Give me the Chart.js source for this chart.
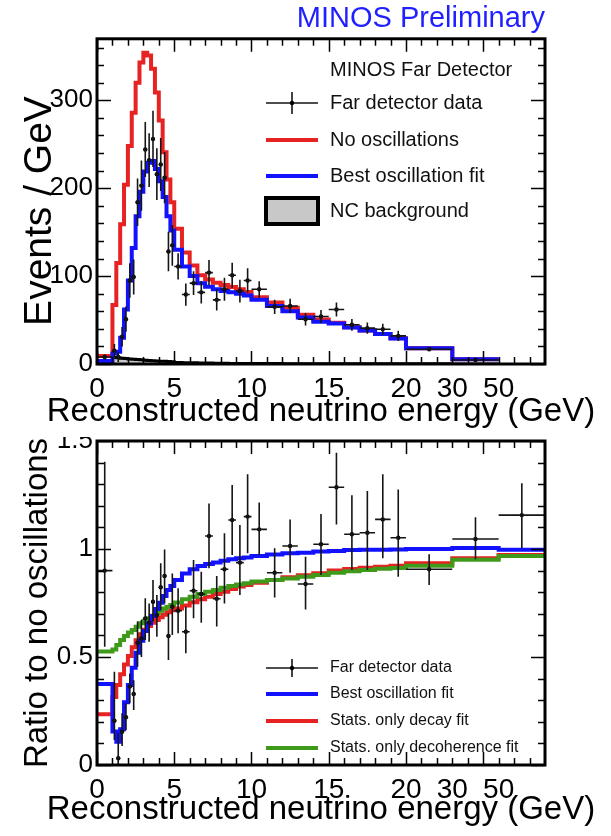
<!DOCTYPE html>
<html>
<head>
<meta charset="utf-8">
<title>MINOS Far Detector spectrum</title>
<script src="https://cdn.jsdelivr.net/npm/chart.js@4.4.0/dist/chart.umd.min.js"></script>
<style>
  body { margin: 0; background: #fff; }
  #wrap { position: relative; width: 611px; height: 836px; overflow: hidden; }
  #spectrum { position: absolute; left: 0; top: 0; z-index: 2; background: #fff; }
  #ratio { position: absolute; left: 0; top: 400px; z-index: 1; }
</style>
</head>
<body>
<div id="wrap">
  <canvas id="spectrum" width="611" height="437"></canvas>
  <canvas id="ratio" width="611" height="436"></canvas>
</div>
<script>
const FONT = "'Liberation Sans', Arial, Helvetica, sans-serif";
Chart.defaults.font.family = FONT;
Chart.defaults.color = '#000';

// energy bins in GeV (the last bin only appears in the ratio)
const binEdges = [0, 1, 1.25, 1.5, 1.75, 2, 2.25, 2.5, 2.75, 3, 3.25, 3.5, 3.75, 4, 4.25, 4.5, 4.75, 5,
  5.5, 6, 6.5, 7, 7.5, 8, 8.5, 9, 9.5, 10, 11, 12, 13, 14, 15, 16, 17, 18, 19, 20, 30, 50, 200];
const energyLabels = [0, 5, 10, 15, 20, 30, 50];

// events / GeV
const noOscillations = [9, 67, 115, 159, 204, 248, 286, 320, 343, 354, 351, 336, 309, 277, 241, 210, 184,
  154, 127, 112, 101, 96, 92.5, 90, 87.5, 85, 82,
  76, 70, 64, 56, 50.5, 47, 41.7, 38.2, 34.2, 29.2, 18, 5.4];
const bestFit = [3.5, 12, 14, 30, 62, 95, 132, 168, 196, 219, 229, 231, 222, 208, 190, 168, 152,
  130, 111, 100, 92, 88, 85, 83, 81.5, 80, 78,
  73, 66, 60, 53, 48, 46, 41.5, 38, 34, 29, 18, 5.4];
const ncBackground = [4, 7.5, 7, 6.6, 6.2, 5.8, 5.4, 5, 4.7, 4.4, 4.1, 3.8, 3.5, 3.2, 3, 2.8, 2.6,
  1.8, 1.5, 1.3, 1.1, 1, 0.9, 0.8, 0.7, 0.6, 0.55,
  0.5, 0.45, 0.4, 0.35, 0.3, 0.3, 0.25, 0.25, 0.2, 0.2, 0.15, 0.1];
const farData = [8, 15, 8, 31, 51, 95, 99, 184, 203, 244, 232, 256, 216, 227, 212, 128, 135,
  111, 79, 92, 81.5, 104, 73, 85, 101, 83, 95,
  85, 65, 66, 51, 54, 62, 44.6, 40.8, 39.6, 32, 16.8, 4.6];
const farDataErr = [2.8, 7.7, 5.7, 11.1, 14.3, 19.5, 19.9, 27.1, 28.5, 31.2, 30.5, 32, 29.4, 30.1, 29.1, 22.6, 23.2,
  14.9, 12.6, 13.6, 12.8, 14.4, 12.1, 13, 14.2, 12.9, 13.8,
  9.2, 8.1, 8.1, 7.1, 7.3, 7.9, 6.7, 6.4, 6.3, 5.7, 1.3, 0.5];

// ratio to no oscillations
const ratioData = [0.9, 0.205, 0.031, 0.154, 0.221, 0.363, 0.329, 0.566, 0.586, 0.679, 0.659, 0.756, 0.694, 0.823, 0.875, 0.597, 0.733,
  0.714, 0.617, 0.807, 0.792, 1.06, 0.77, 0.906, 1.134, 0.937, 1.15,
  1.091, 0.89, 1.014, 0.838, 1.022, 1.286, 1.068, 1.075, 1.137, 1.052, 0.906, 1.046, 1.157];
const ratioDataHi = [1.404, 0.432, 0.147, 0.24, 0.286, 0.424, 0.392, 0.664, 0.671, 0.772, 0.748, 0.856, 0.787, 0.934, 0.998, 0.702, 0.887,
  0.818, 0.733, 0.949, 0.895, 1.211, 0.875, 1.073, 1.296, 1.111, 1.346,
  1.215, 1.003, 1.137, 0.964, 1.162, 1.446, 1.249, 1.268, 1.346, 1.276, 0.976, 1.147, 1.304];
const ratioDataLo = [0.548, 0.116, 0, 0.088, 0.162, 0.286, 0.255, 0.455, 0.5, 0.579, 0.571, 0.664, 0.594, 0.718, 0.748, 0.486, 0.602,
  0.61, 0.517, 0.679, 0.659, 0.911, 0.641, 0.748, 0.972, 0.787, 0.98,
  0.972, 0.776, 0.89, 0.72, 0.88, 1.114, 0.903, 0.903, 0.957, 0.872, 0.833, 0.952, 1.004];
const ratioBestFit = [0.375, 0.155, 0.108, 0.165, 0.29, 0.37, 0.45, 0.52, 0.575, 0.62, 0.655, 0.69, 0.722, 0.751, 0.782, 0.81, 0.829,
  0.856, 0.887, 0.906, 0.921, 0.93, 0.937, 0.946, 0.952, 0.957, 0.961,
  0.968, 0.975, 0.98, 0.983, 0.988, 0.991, 0.995, 0.996, 0.997, 0.998, 1.0, 1.005, 0.997];
const ratioDecay = [0.235, 0.315, 0.37, 0.42, 0.465, 0.505, 0.545, 0.578, 0.605, 0.626, 0.644, 0.659, 0.671, 0.684, 0.696, 0.707, 0.716,
  0.725, 0.739, 0.753, 0.767, 0.779, 0.792, 0.802, 0.815, 0.826, 0.833,
  0.844, 0.856, 0.869, 0.879, 0.888, 0.9, 0.907, 0.913, 0.918, 0.923, 0.934, 0.957, 0.972];
const ratioDecoherence = [0.525, 0.535, 0.556, 0.579, 0.597, 0.613, 0.625, 0.64, 0.656, 0.668, 0.679, 0.691, 0.702, 0.714, 0.724, 0.733, 0.741,
  0.752, 0.767, 0.779, 0.792, 0.802, 0.81, 0.821, 0.829, 0.836, 0.841,
  0.849, 0.856, 0.864, 0.872, 0.88, 0.89, 0.897, 0.903, 0.908, 0.912, 0.922, 0.95, 0.968];

const RED = '#e62222', BLUE = '#1212ff', GREEN = '#3f9a1c';

// the energy axis is linear up to 20 GeV, then 20-30 and 30-50 get 3 units each
const axisBreaks = [[0, 0], [20, 20], [30, 23], [50, 26], [200, 29]];
function axisPos(e) {
  for (let i = 1; i < axisBreaks.length; i++) {
    const [e0, a0] = axisBreaks[i - 1], [e1, a1] = axisBreaks[i];
    if (e <= e1) return a0 + (e - e0) / (e1 - e0) * (a1 - a0);
  }
  return axisBreaks[axisBreaks.length - 1][1];
}

// flat top over each bin, joined by vertical edges
function histPoints(values) {
  const pts = [];
  values.forEach((v, i) => {
    pts.push({ x: axisPos(binEdges[i]), y: v });
    pts.push({ x: axisPos(binEdges[i + 1]), y: v });
  });
  return pts;
}

function dataPoints(values) {
  return values.map((v, i) => ({ x: (axisPos(binEdges[i]) + axisPos(binEdges[i + 1])) / 2, y: v }));
}

function histDataset(label, values, color) {
  return { type: 'line', label, data: histPoints(values), borderColor: color, borderWidth: 4,
    pointRadius: 0, fill: false, tension: 0, borderJoinStyle: 'miter' };
}

function pointDataset(label, values, lo, hi) {
  return { type: 'scatter', label, data: dataPoints(values), pointRadius: 2.2, pointBackgroundColor: '#000',
    pointBorderWidth: 0, showLine: false,
    errLo: lo, errHi: hi,
    binLo: values.map((v, i) => axisPos(binEdges[i])),
    binHi: values.map((v, i) => axisPos(binEdges[i + 1])) };
}

// crosses: bin width horizontally, uncertainty vertically
const errorBars = {
  id: 'errorBars',
  afterDatasetsDraw(chart) {
    const { ctx, chartArea: a, scales: { x, y } } = chart;
    ctx.save();
    ctx.beginPath();
    ctx.rect(a.left, a.top, a.right - a.left, a.bottom - a.top);
    ctx.clip();
    ctx.strokeStyle = '#151515';
    ctx.lineWidth = 1.6;
    chart.data.datasets.forEach(ds => {
      if (!ds.errLo) return;
      ctx.beginPath();
      ds.data.forEach((p, j) => {
        const px = x.getPixelForValue(p.x), py = y.getPixelForValue(p.y);
        ctx.moveTo(x.getPixelForValue(ds.binLo[j]), py);
        ctx.lineTo(x.getPixelForValue(ds.binHi[j]), py);
        ctx.moveTo(px, y.getPixelForValue(ds.errLo[j]));
        ctx.lineTo(px, y.getPixelForValue(ds.errHi[j]));
      });
      ctx.stroke();
    });
    ctx.restore();
  }
};

// heavy box with inward ticks on all four sides
const rootFrame = {
  id: 'rootFrame',
  afterDraw(chart, args, opts) {
    const { ctx, chartArea: a, scales: { x, y } } = chart;
    ctx.save();
    ctx.strokeStyle = '#000';
    ctx.lineWidth = 1.5;
    ctx.beginPath();
    for (let v = 0; v < 29; v++) {
      const len = v % 5 === 0 ? 13 : 7;
      const px = Math.round(x.getPixelForValue(v)) + 0.5;
      ctx.moveTo(px, a.bottom); ctx.lineTo(px, a.bottom - len);
      ctx.moveTo(px, a.top); ctx.lineTo(px, a.top + len);
    }
    for (let k = 0; k * opts.yMinor <= y.max + 1e-9; k++) {
      const len = k % opts.yMajorEvery === 0 ? 14 : 7;
      const py = Math.round(y.getPixelForValue(k * opts.yMinor)) + 0.5;
      ctx.moveTo(a.left, py); ctx.lineTo(a.left + len, py);
      ctx.moveTo(a.right, py); ctx.lineTo(a.right - len, py);
    }
    ctx.stroke();
    ctx.lineWidth = 3;
    ctx.strokeRect(a.left, a.top, a.right - a.left, a.bottom - a.top);
    ctx.restore();
  }
};

// axis titles drawn at full width (the built-in ones get squeezed to the axis length)
const axisTitles = {
  id: 'axisTitles',
  afterDraw(chart, args, opts) {
    const { ctx, chartArea: a } = chart;
    ctx.save();
    ctx.fillStyle = '#000';
    ctx.textAlign = 'center';
    ctx.textBaseline = 'middle';
    ctx.font = opts.xSize + 'px ' + FONT;
    ctx.fillText(opts.xText, (a.left + a.right) / 2, opts.xY);
    ctx.translate(opts.yX, opts.yY);
    ctx.rotate(-Math.PI / 2);
    ctx.font = opts.ySize + 'px ' + FONT;
    ctx.fillText(opts.yText, 0, 0);
    ctx.restore();
  }
};

// legend drawn inside the frame, ROOT style
const rootLegend = {
  id: 'rootLegend',
  afterDraw(chart, args, opts) {
    const ctx = chart.ctx;
    const datasets = chart.data.datasets;
    ctx.save();
    ctx.font = opts.size + 'px ' + FONT;
    ctx.textBaseline = 'middle';
    ctx.fillStyle = '#111';
    if (opts.header) ctx.fillText(opts.header, opts.textX, opts.headerY);
    opts.rows.forEach(r => {
      const ds = datasets[r.ds];
      const xm = (opts.x0 + opts.x1) / 2;
      ctx.beginPath();
      if (r.kind === 'data') {
        ctx.strokeStyle = '#151515';
        ctx.lineWidth = 1.6;
        ctx.moveTo(opts.x0, r.y); ctx.lineTo(opts.x1, r.y);
        ctx.moveTo(xm, r.y - opts.barHalf); ctx.lineTo(xm, r.y + opts.barHalf);
        ctx.stroke();
        ctx.beginPath();
        ctx.arc(xm, r.y, 2.2, 0, Math.PI * 2);
        ctx.fillStyle = '#000';
        ctx.fill();
      } else if (r.kind === 'box') {
        ctx.fillStyle = ds.backgroundColor;
        ctx.fillRect(opts.x0, r.y - 13, opts.x1 - opts.x0, 26);
        ctx.strokeStyle = '#000';
        ctx.lineWidth = 4;
        ctx.strokeRect(opts.x0, r.y - 13, opts.x1 - opts.x0, 26);
      } else {
        ctx.strokeStyle = ds.borderColor;
        ctx.lineWidth = 4;
        ctx.moveTo(opts.x0, r.y); ctx.lineTo(opts.x1, r.y);
        ctx.stroke();
      }
      ctx.fillStyle = '#111';
      ctx.fillText(ds.label, opts.textX, r.y);
    });
    ctx.restore();
  }
};

function energyAxis(height) {
  return {
    type: 'linear', min: 0, max: 29,
    afterFit: s => { s.height = height; },
    afterBuildTicks: s => { s.ticks = energyLabels.map(e => ({ value: axisPos(e) })); },
    grid: { display: false, drawTicks: false },
    border: { display: false },
    ticks: { autoSkip: false, maxRotation: 0, padding: 8, font: { size: 28 }, color: '#000',
      callback: (v, i) => String(energyLabels[i]) }
  };
}

// upper pad: energy spectrum
new Chart(document.getElementById('spectrum'), {
  type: 'line',
  data: {
    datasets: [
      pointDataset('Far detector data', farData,
        farData.map((v, i) => v - farDataErr[i]), farData.map((v, i) => v + farDataErr[i])),
      histDataset('Best oscillation fit', bestFit, BLUE),
      histDataset('No oscillations', noOscillations, RED),
      Object.assign(histDataset('NC background', ncBackground, '#000'),
        { borderWidth: 3, fill: 'origin', backgroundColor: '#c8c8c8' })
    ]
  },
  options: {
    responsive: false,
    animation: false,
    layout: { padding: { left: 0, right: 66, top: 0, bottom: 0 } },
    plugins: {
      legend: { display: false },
      tooltip: { enabled: false },
      title: { display: true, text: 'MINOS Preliminary', align: 'end', color: '#1f1fff',
        font: { size: 29, weight: 'normal' }, padding: { top: 2, bottom: 2 } },
      rootFrame: { yMinor: 20, yMajorEvery: 5 },
      axisTitles: { xText: 'Reconstructed neutrino energy (GeV)', xSize: 33, xY: 412,
        yText: 'Events / GeV', ySize: 39, yX: 40, yY: 211 },
      rootLegend: {
        size: 20, x0: 266, x1: 318, textX: 330, barHalf: 11,
        header: 'MINOS Far Detector', headerY: 70,
        rows: [
          { ds: 0, kind: 'data', y: 103 },
          { ds: 2, kind: 'line', y: 140 },
          { ds: 1, kind: 'line', y: 176 },
          { ds: 3, kind: 'box', y: 211 }
        ]
      }
    },
    scales: {
      x: energyAxis(73),
      y: {
        min: 0, max: 370,
        afterFit: s => { s.width = 97; },
        afterBuildTicks: s => { s.ticks = [0, 100, 200, 300].map(v => ({ value: v })); },
        grid: { display: false, drawTicks: false },
        border: { display: false },
        ticks: { padding: 4, font: { size: 26 }, color: '#000' }
      }
    }
  },
  plugins: [errorBars, rootFrame, axisTitles, rootLegend]
});

// lower pad: ratio to the no-oscillation prediction
new Chart(document.getElementById('ratio'), {
  type: 'line',
  data: {
    datasets: [
      pointDataset('Far detector data', ratioData, ratioDataLo, ratioDataHi),
      histDataset('Best oscillation fit', ratioBestFit, BLUE),
      histDataset('Stats. only decoherence fit', ratioDecoherence, GREEN),
      histDataset('Stats. only decay fit', ratioDecay, RED)
    ]
  },
  options: {
    responsive: false,
    animation: false,
    layout: { padding: { left: 0, right: 66, top: 41, bottom: 0 } },
    plugins: {
      legend: { display: false },
      tooltip: { enabled: false },
      rootFrame: { yMinor: 0.1, yMajorEvery: 5 },
      axisTitles: { xText: 'Reconstructed neutrino energy (GeV)', xSize: 33, xY: 410,
        yText: 'Ratio to no oscillations', ySize: 33, yX: 38, yY: 203 },
      rootLegend: {
        size: 16, x0: 266, x1: 318, textX: 330, barHalf: 9,
        rows: [
          { ds: 0, kind: 'data', y: 268 },
          { ds: 1, kind: 'line', y: 294 },
          { ds: 3, kind: 'line', y: 321 },
          { ds: 2, kind: 'line', y: 348 }
        ]
      }
    },
    scales: {
      x: energyAxis(71),
      y: {
        min: 0, max: 1.5,
        afterFit: s => { s.width = 97; },
        afterBuildTicks: s => { s.ticks = [0, 0.5, 1, 1.5].map(v => ({ value: v })); },
        grid: { display: false, drawTicks: false },
        border: { display: false },
        ticks: { padding: 4, font: { size: 26 }, color: '#000', callback: v => String(v) }
      }
    }
  },
  plugins: [errorBars, rootFrame, axisTitles, rootLegend]
});
</script>
</body>
</html>
